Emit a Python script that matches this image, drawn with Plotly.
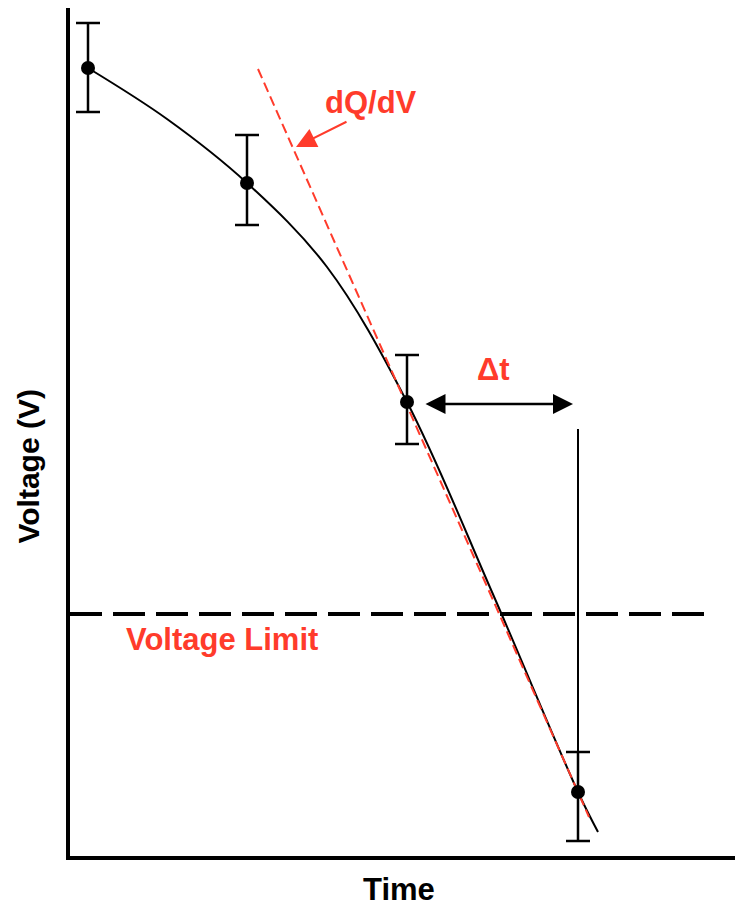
import plotly.graph_objects as go

# Measured points (time, voltage) in chart units
pt_time = [18, 177, 337, 508]
pt_volt = [788, 673, 454, 64]
err_plus = [45, 48, 47, 40]
err_minus = [44, 42, 42, 49]

# Fitted discharge curve samples
curve_time = [18, 97, 177, 257, 337, 422, 508, 528]
curve_volt = [788, 737, 673, 589, 454, 264, 64, 24]

# Tangent line (dQ/dV) end points
tan_time = [188, 519]
tan_volt = [787, 39]

voltage_limit = 242
limit_span = [0, 638]

# Predicted crossing marker
pred_time = 508
pred_volt_span = [15, 427]

# Delta-t arrow
dt_span = [354, 503]
dt_volt = 452

RED = "#FF3B2B"
FONT = "Liberation Sans, Arial, Helvetica, sans-serif"

fig = go.Figure()

fig.add_trace(go.Scatter(
    x=curve_time, y=curve_volt, mode="lines",
    line=dict(color="black", width=2, shape="spline", smoothing=1.0),
    hoverinfo="skip", showlegend=False))

fig.add_trace(go.Scatter(
    x=tan_time, y=tan_volt, mode="lines",
    line=dict(color=RED, width=2, dash="10px,5px"),
    hoverinfo="skip", showlegend=False))

fig.add_trace(go.Scatter(
    x=limit_span, y=[voltage_limit, voltage_limit], mode="lines",
    line=dict(color="black", width=4, dash="32px,11px"),
    hoverinfo="skip", showlegend=False))

fig.add_trace(go.Scatter(
    x=[pred_time, pred_time], y=pred_volt_span, mode="lines",
    line=dict(color="black", width=2),
    hoverinfo="skip", showlegend=False))

fig.add_trace(go.Scatter(
    x=pt_time, y=pt_volt, mode="markers",
    marker=dict(color="black", size=14),
    error_y=dict(type="data", symmetric=False, array=err_plus,
                 arrayminus=err_minus, color="black", thickness=2.5, width=12),
    showlegend=False))

# Delta-t double arrow
fig.add_annotation(x=dt_span[1], y=dt_volt, ax=dt_span[0], ay=dt_volt,
                   xref="x", yref="y", axref="x", ayref="y", text="",
                   showarrow=True, arrowhead=2, startarrowhead=2,
                   arrowside="end+start", arrowsize=1.6, startarrowsize=1.6,
                   arrowwidth=2.5, arrowcolor="black", standoff=0, startstandoff=0)

# dQ/dV pointer arrow
fig.add_annotation(x=226, y=709, ax=278, ay=735,
                   xref="x", yref="y", axref="x", ayref="y", text="",
                   showarrow=True, arrowhead=2, arrowsize=2.0,
                   arrowwidth=2, arrowcolor=RED, standoff=0)

fig.add_annotation(x=301, y=754, xref="x", yref="y", text="<b>dQ/dV</b>",
                   showarrow=False, font=dict(family=FONT, size=31, color=RED))
fig.add_annotation(x=423, y=487, xref="x", yref="y", text="<b>Δt</b>",
                   showarrow=False, font=dict(family=FONT, size=31, color=RED))
fig.add_annotation(x=152, y=217, xref="x", yref="y", text="<b>Voltage Limit</b>",
                   showarrow=False, font=dict(family=FONT, size=31, color=RED))

# Axis titles
fig.add_annotation(x=0.494, y=-0.04, xref="paper", yref="paper", text="<b>Time</b>",
                   showarrow=False, xanchor="center", yanchor="middle",
                   font=dict(family=FONT, size=31, color="black"))
fig.add_annotation(x=-0.062, y=0.459, xref="paper", yref="paper", text="<b>Voltage (V)</b>",
                   showarrow=False, xanchor="center", yanchor="middle", textangle=-90,
                   font=dict(family=FONT, size=30, color="black"))

axis_common = dict(showgrid=False, zeroline=False, showticklabels=False, ticks="",
                   showline=True, linecolor="black", linewidth=4, fixedrange=True)

fig.update_layout(
    width=735, height=907,
    margin=dict(l=70, r=0, t=8, b=51),
    paper_bgcolor="white", plot_bgcolor="white",
    xaxis=dict(range=[0, 665], **axis_common),
    yaxis=dict(range=[0, 848], **axis_common),
    showlegend=False,
)

fig.write_html("out.html")
